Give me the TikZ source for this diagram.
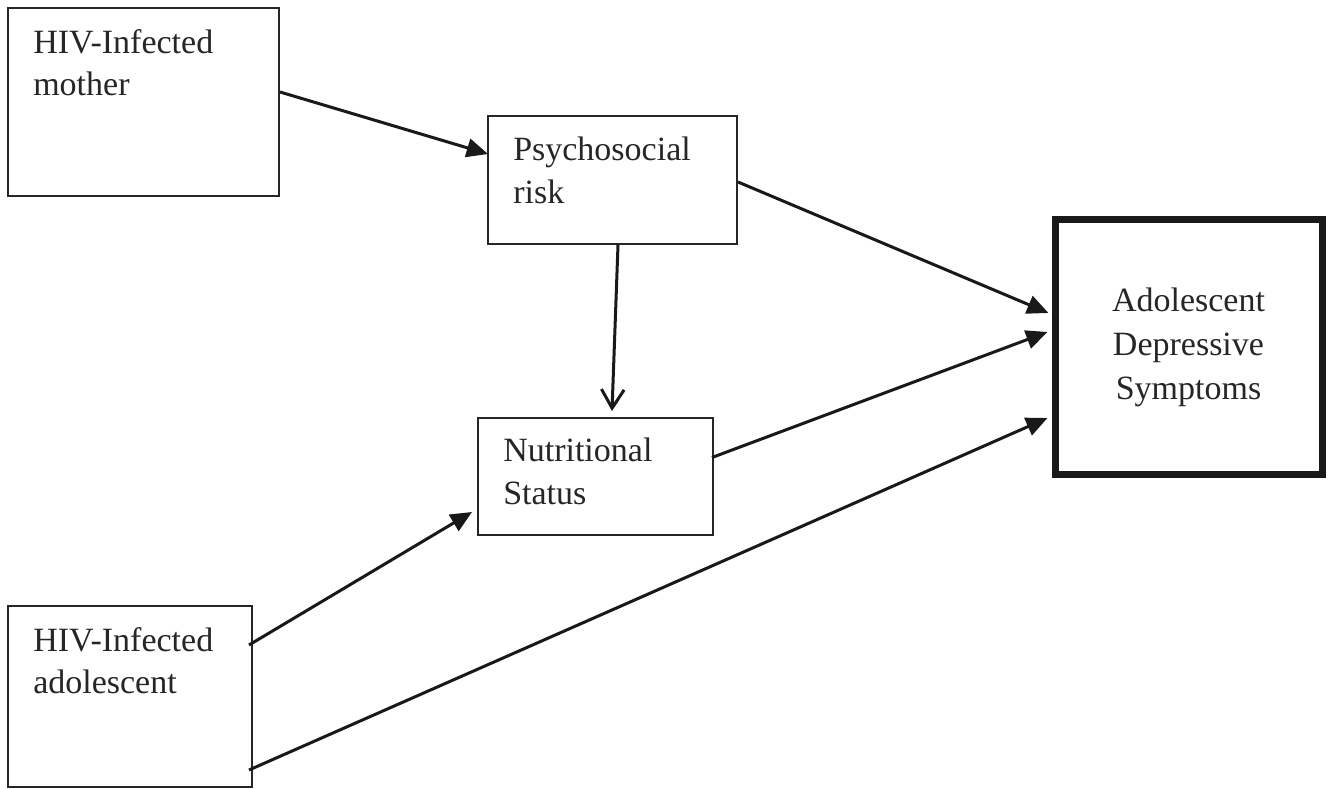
\documentclass[tikz,border=0pt]{standalone}
\usepackage{fontspec}
\setmainfont{Liberation Serif}
\usetikzlibrary{arrows.meta,calc}

\tikzset{
    box/.style={draw=black!85, line width=1.5pt, inner sep=0pt},
    outbox/.style={draw=black!90, line width=5.25pt, inner sep=0pt, align=center,
        font=\fontsize{25.5}{33}\selectfont, text=black!85},
    txt/.style={anchor=north west, inner sep=0pt, align=left,
        font=\fontsize{25.5}{32}\selectfont, text=black!85},
    arr/.style={line width=2.25pt, black!90, -{Triangle[length=16pt,width=14pt]}},
    openarr/.style={line width=2.25pt, black!90, -{Straight Barb[length=14pt,width=17pt,line width=2.25pt]}}
}

\begin{document}
\begin{tikzpicture}[x=0.75pt,y=-0.75pt]
        \useasboundingbox[fill=white] (0,0) rectangle (1336,789);

        % Boxes
        \node[box, minimum width=203.25pt, minimum height=141pt] (mother) at (143.5,102) {};
        \node[box, minimum width=186.75pt, minimum height=96pt] (psych) at (612.5,180) {};
        \node[box, minimum width=176.25pt, minimum height=87.75pt] (nutr) at (595.5,476.5) {};
        \node[box, minimum width=183pt, minimum height=135.75pt] (adol) at (130,696.5) {};
        \node[outbox, minimum width=200.25pt, minimum height=191.25pt] (ads) at (1188.5,347)
            {Adolescent\\Depressive\\Symptoms};

        % Box texts
        \node[txt] (mothertxt) at (33,29) {HIV-Infected\\mother};
        \node[txt] (psychtxt) at (513,137) {Psychosocial\\risk};
        \node[txt] (nutrtxt) at (503,438) {Nutritional\\Status};
        \node[txt] (adoltxt) at (33,627) {HIV-Infected\\adolescent};

        % Paths
        \draw[arr] ($(mother.east)+(0,-10)$) -- ($(psych.west)+(1,-26)$);
        \draw[arr] ($(psych.east)+(0,2)$) -- ($(ads.west)+(-3,-34)$);
        \draw[openarr] ($(psych.south)+(5.5,0)$) -- ($(nutr.north)+(16.5,-6)$);
        \draw[arr] ($(nutr.east)+(-2,-19)$) -- ($(ads.west)+(-4,-15)$);
        \draw[arr] ($(adol.east)+(-4,-51.5)$) -- ($(nutr.west)+(-5,35.5)$);
        \draw[arr] ($(adol.east)+(-4,73.5)$) -- ($(ads.west)+(-4,71)$);

\end{tikzpicture}
\end{document}
